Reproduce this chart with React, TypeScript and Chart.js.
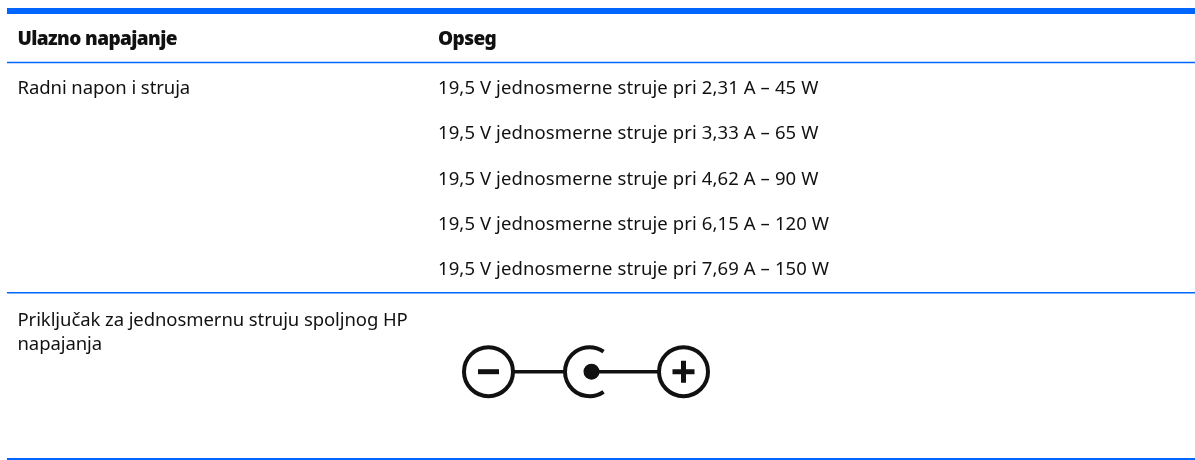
import React, { useEffect, useRef } from "react";
import { Chart, registerables } from "chart.js";

Chart.register(...registerables);

const headers = ["Ulazno napajanje", "Opseg"];
const leftCells = ["Radni napon i struja", "Priključak za jednosmernu struju spoljnog HP", "napajanja"];
const rightCells = [
  "19,5 V jednosmerne struje pri 2,31 A – 45 W",
  "19,5 V jednosmerne struje pri 3,33 A – 65 W",
  "19,5 V jednosmerne struje pri 4,62 A – 90 W",
  "19,5 V jednosmerne struje pri 6,15 A – 120 W",
  "19,5 V jednosmerne struje pri 7,69 A – 150 W",
];
const rightRows = [94, 139, 185, 230, 275];
const leftRows = [94, 326, 350];
const columns = [17.5, 438];
const headerRow = 45;
const rules = [11, 62.5, 292.8, 459];
const ruleWidths = [6, 1.6, 1.6, 2];
const tableSpan = [7, 1195];
const symbolRow = 371.7;
const symbolX = { minus: 488.5, jackOpen: 589.5, jackDot: 591.5, plus: 683.5 };

const BLUE = "#0066ff";
const INK = "#111111";

const tablePlugin = {
  id: "table",
  afterDatasetsDraw(chart: any) {
    const { ctx, scales } = chart;
    const X = (v: number) => scales.x.getPixelForValue(v);
    const Y = (v: number) => scales.y.getPixelForValue(v);
    ctx.save();
    ctx.textBaseline = "alphabetic";
    ctx.textAlign = "left";
    ctx.fillStyle = INK;
    ctx.font = '900 19px "Noto Sans"';
    (ctx as any).letterSpacing = "-0.6px";
    headers.forEach((t, i) => ctx.fillText(t, X(columns[i]), Y(headerRow)));
    ctx.font = '400 18.5px "Noto Sans"';
    (ctx as any).letterSpacing = "-0.08px";
    leftCells.forEach((t, i) => ctx.fillText(t, X(columns[0]), Y(leftRows[i])));
    (ctx as any).letterSpacing = "0.1px";
    rightCells.forEach((t, i) => ctx.fillText(t, X(columns[1]), Y(rightRows[i])));

    // open jack contact of the polarity symbol
    ctx.strokeStyle = INK;
    ctx.lineWidth = 4;
    ctx.beginPath();
    ctx.arc(X(symbolX.jackOpen), Y(symbolRow), 24.5, (55 * Math.PI) / 180, (305 * Math.PI) / 180);
    ctx.stroke();
    ctx.restore();
  },
};

export default function App() {
  const ref = useRef<HTMLCanvasElement>(null);
  useEffect(() => {
    document.body.style.margin = "0";
    document.body.style.background = "#fff";
    const ruleSets = rules.map((y, i) => ({
      type: "line" as const,
      data: tableSpan.map((x) => ({ x, y })),
      borderColor: BLUE,
      borderWidth: ruleWidths[i],
      pointRadius: 0,
      order: 5,
    }));
    const chart = new Chart(ref.current!, {
      type: "scatter",
      data: {
        datasets: [
          ...ruleSets,
          {
            type: "line" as const,
            data: [
              { x: symbolX.minus, y: symbolRow },
              { x: symbolX.jackOpen - 24.5, y: symbolRow },
            ],
            borderColor: INK,
            borderWidth: 3.5,
            pointRadius: 0,
            order: 4,
          },
          {
            type: "line" as const,
            data: [
              { x: symbolX.jackDot, y: symbolRow },
              { x: symbolX.plus, y: symbolRow },
            ],
            borderColor: INK,
            borderWidth: 3.5,
            pointRadius: 0,
            order: 4,
          },
          {
            type: "scatter" as const,
            data: [
              { x: symbolX.minus, y: symbolRow },
              { x: symbolX.plus, y: symbolRow },
            ],
            pointStyle: "circle",
            pointRadius: 24.5,
            pointBackgroundColor: "#fff",
            pointBorderColor: INK,
            pointBorderWidth: 4,
            order: 3,
          },
          {
            type: "scatter" as const,
            data: [{ x: symbolX.jackDot, y: symbolRow }],
            pointStyle: "circle",
            pointRadius: 8,
            pointBackgroundColor: INK,
            pointBorderColor: INK,
            pointBorderWidth: 0,
            order: 2,
          },
          {
            type: "scatter" as const,
            data: [{ x: symbolX.minus, y: symbolRow }],
            pointStyle: "line",
            pointRadius: 10.5,
            pointBorderColor: INK,
            pointBorderWidth: 5,
            order: 1,
          },
          {
            type: "scatter" as const,
            data: [{ x: symbolX.plus, y: symbolRow }],
            pointStyle: "cross",
            pointRadius: 11,
            pointBorderColor: INK,
            pointBorderWidth: 5,
            order: 1,
          },
        ],
      },
      options: {
        animation: false,
        responsive: false,
        layout: { padding: 0, autoPadding: false },
        plugins: { legend: { display: false }, tooltip: { enabled: false } },
        scales: {
          x: { type: "linear", min: 0, max: 1195, display: false },
          y: { type: "linear", min: 0, max: 460, reverse: true, display: false },
        },
      },
      plugins: [tablePlugin],
    } as any);
    return () => chart.destroy();
  }, []);
  return <canvas ref={ref} width={1195} height={460} style={{ display: "block" }} />;
}
